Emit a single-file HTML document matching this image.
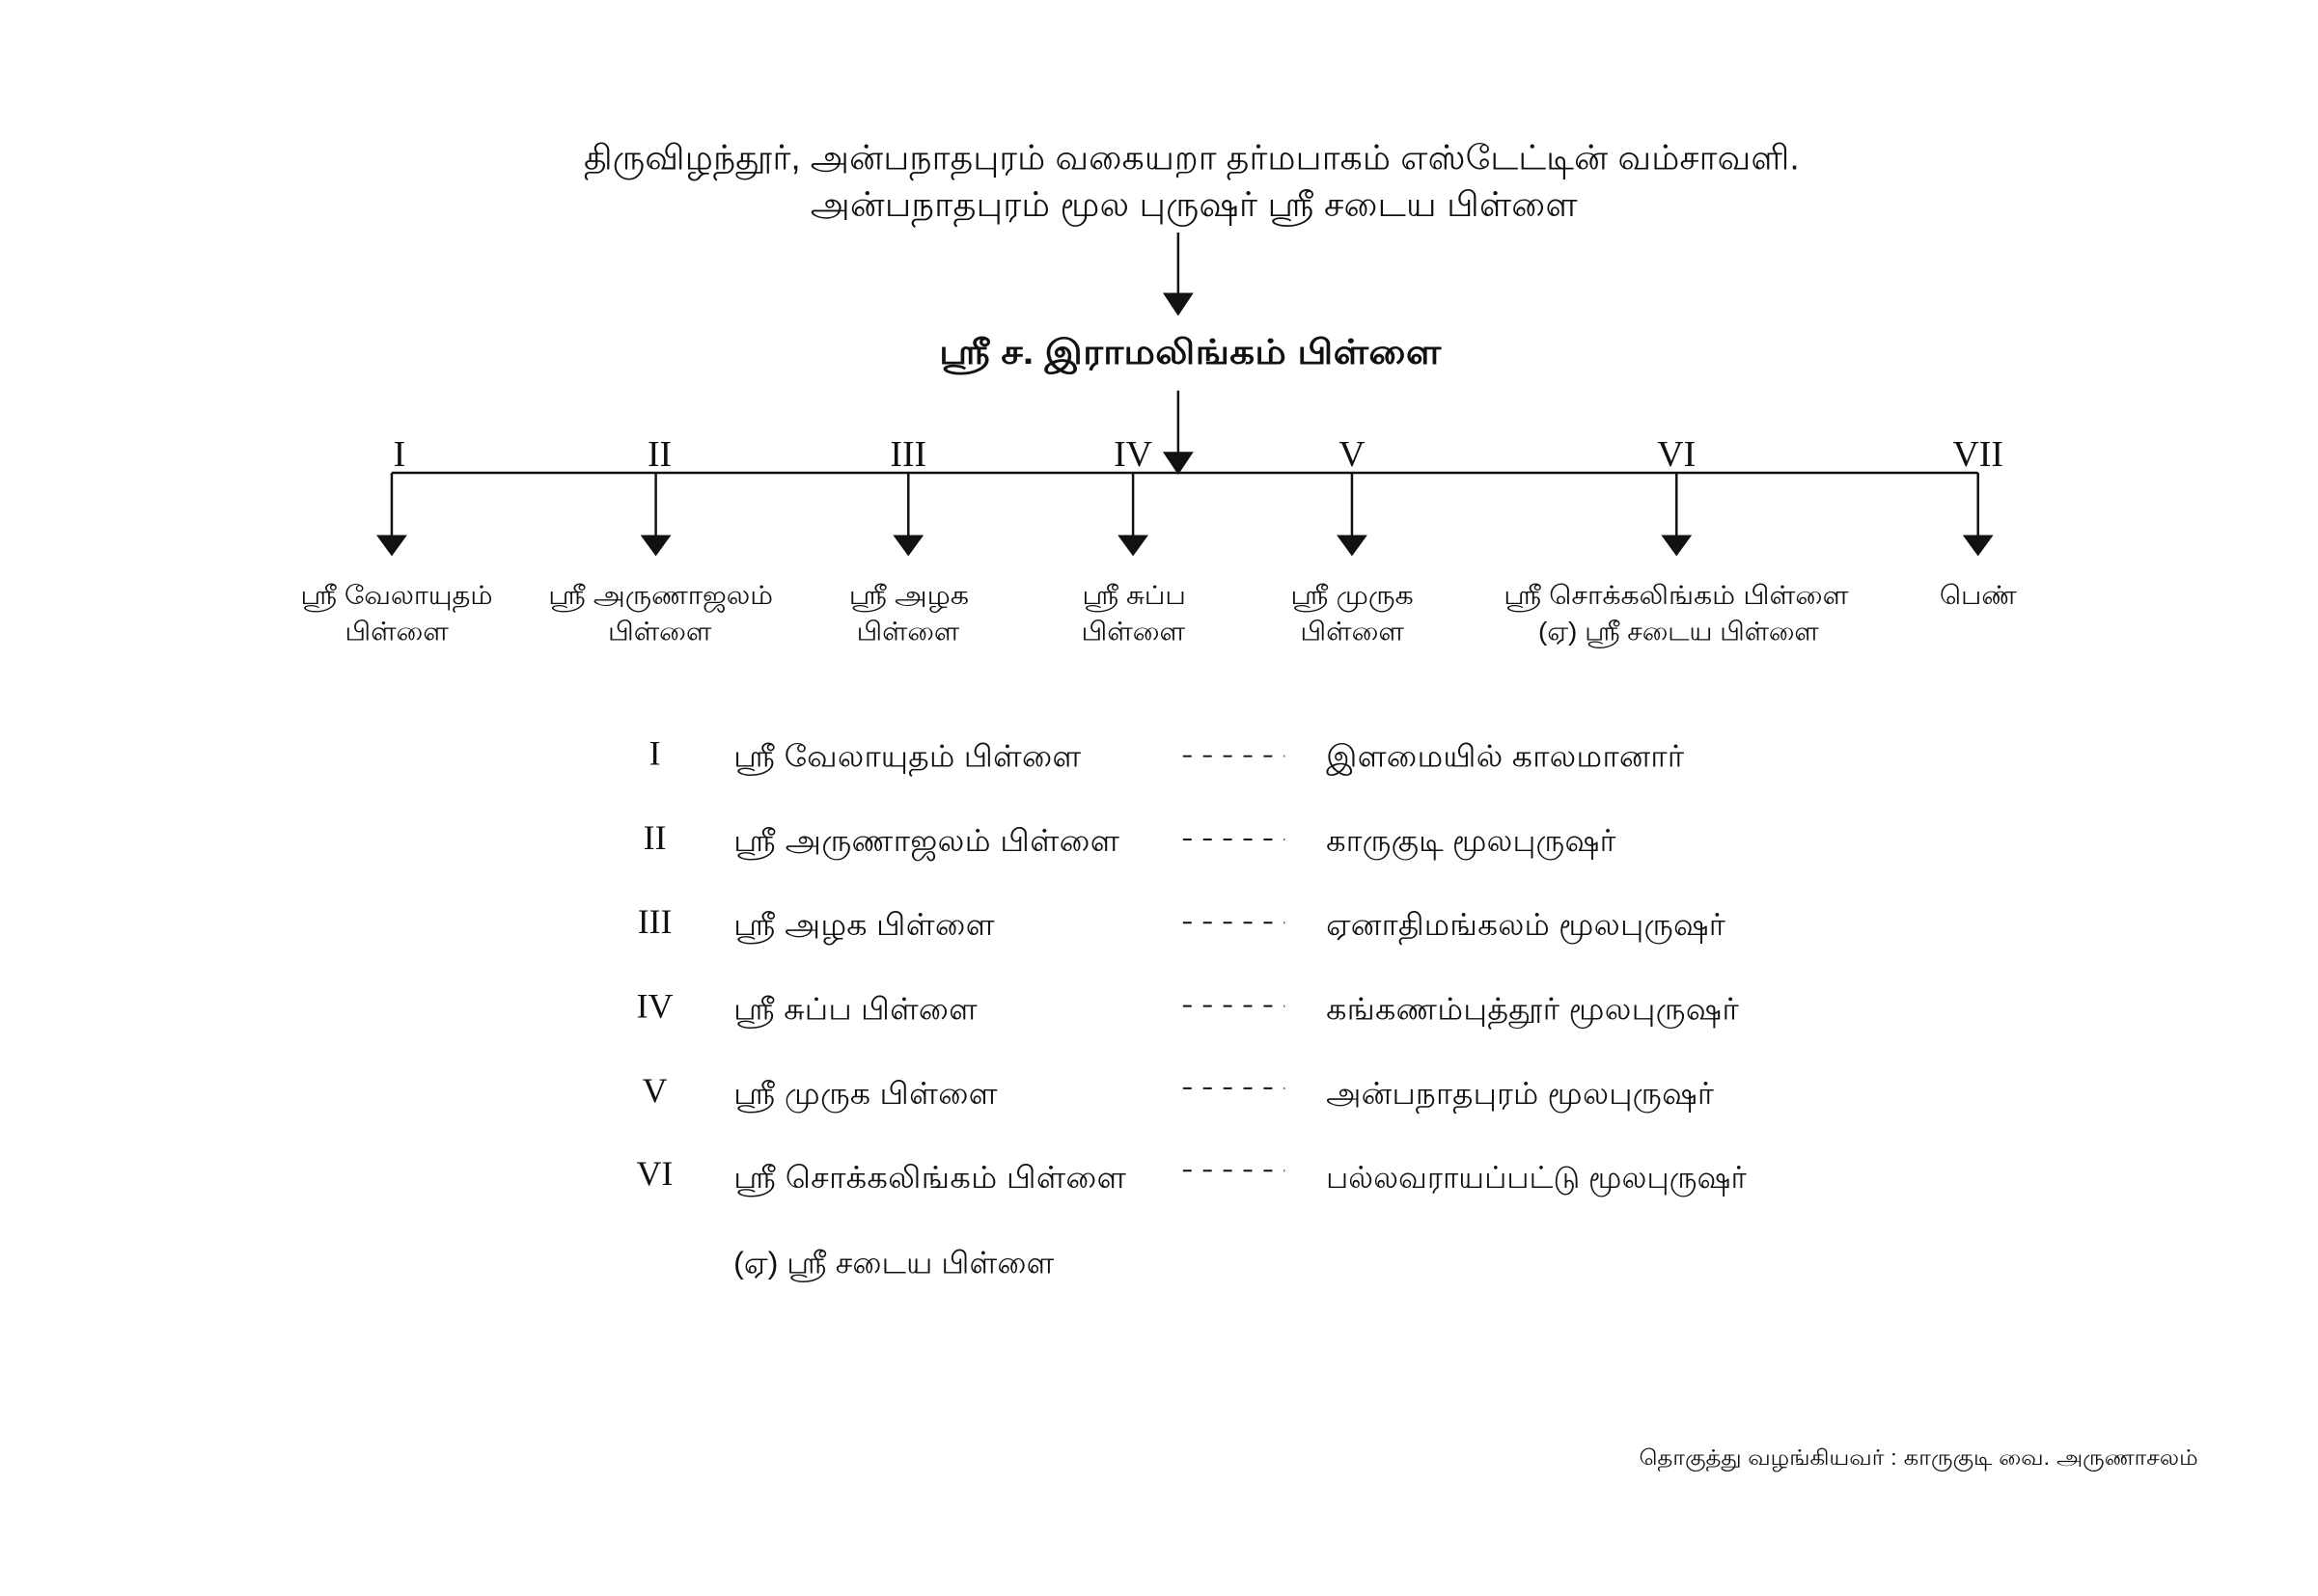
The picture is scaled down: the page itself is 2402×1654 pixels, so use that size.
<!DOCTYPE html>
<html><head><meta charset="utf-8"><style>html,body{margin:0;padding:0;background:#fff}svg{display:block}</style></head>
<body>
<svg width="2402" height="1654" viewBox="0 0 2402 1654" xmlns="http://www.w3.org/2000/svg" font-family="'Liberation Sans', 'Noto Sans CJK JP', sans-serif" fill="#111">
<g transform="scale(0.995,0.992)">
<g font-size="36">
<text x="608" y="177" textLength="1266" lengthAdjust="spacingAndGlyphs">திருவிழந்தூர், அன்பநாதபுரம் வகையறா தர்மபாகம் எஸ்டேட்டின் வம்சாவளி.</text>
<text x="844" y="226" textLength="799" lengthAdjust="spacingAndGlyphs">அன்பநாதபுரம் மூல புருஷர் ஸ்ரீ சடைய பிள்ளை</text>
<text x="978" y="380" textLength="523" lengthAdjust="spacingAndGlyphs" font-weight="bold">ஸ்ரீ ச. இராமலிங்கம் பிள்ளை</text>
</g>
<g stroke="#111" stroke-width="2.5">
<line x1="1227" y1="243" x2="1227" y2="310"/>
<line x1="1227" y1="408" x2="1227" y2="478"/>
<line x1="408" y1="494" x2="2060" y2="494"/>
<line x1="408" y1="494" x2="408" y2="560"/>
<line x1="683" y1="494" x2="683" y2="560"/>
<line x1="946" y1="494" x2="946" y2="560"/>
<line x1="1180" y1="494" x2="1180" y2="560"/>
<line x1="1408" y1="494" x2="1408" y2="560"/>
<line x1="1746" y1="494" x2="1746" y2="560"/>
<line x1="2060" y1="494" x2="2060" y2="560"/>
</g>
<g fill="#111">
<polygon points="1211,306 1243,306 1227,330"/>
<polygon points="1211,472 1243,472 1227,496"/>
<polygon points="392,559 424,559 408,581"/>
<polygon points="667,559 699,559 683,581"/>
<polygon points="930,559 962,559 946,581"/>
<polygon points="1164,559 1196,559 1180,581"/>
<polygon points="1392,559 1424,559 1408,581"/>
<polygon points="1730,559 1762,559 1746,581"/>
<polygon points="2044,559 2076,559 2060,581"/>
</g>
<g font-family="'Liberation Serif', serif" font-size="38" text-anchor="middle">
<text x="416" y="487">I</text>
<text x="687" y="487">II</text>
<text x="946" y="487">III</text>
<text x="1180" y="487">IV</text>
<text x="1408" y="487">V</text>
<text x="1746" y="487">VI</text>
<text x="2060" y="487">VII</text>
</g>
<g font-size="27">
<text x="313" y="631" textLength="200" lengthAdjust="spacingAndGlyphs">ஸ்ரீ வேலாயுதம்</text>
<text x="359" y="669" textLength="108" lengthAdjust="spacingAndGlyphs">பிள்ளை</text>
<text x="571" y="631" textLength="234" lengthAdjust="spacingAndGlyphs">ஸ்ரீ அருணாஜலம்</text>
<text x="633" y="669" textLength="108" lengthAdjust="spacingAndGlyphs">பிள்ளை</text>
<text x="884" y="631" textLength="125" lengthAdjust="spacingAndGlyphs">ஸ்ரீ அழக</text>
<text x="892" y="669" textLength="107" lengthAdjust="spacingAndGlyphs">பிள்ளை</text>
<text x="1127" y="631" textLength="108" lengthAdjust="spacingAndGlyphs">ஸ்ரீ சுப்ப</text>
<text x="1126" y="669" textLength="108" lengthAdjust="spacingAndGlyphs">பிள்ளை</text>
<text x="1344" y="631" textLength="128" lengthAdjust="spacingAndGlyphs">ஸ்ரீ முருக</text>
<text x="1354" y="669" textLength="108" lengthAdjust="spacingAndGlyphs">பிள்ளை</text>
<text x="1566" y="631" textLength="359" lengthAdjust="spacingAndGlyphs">ஸ்ரீ சொக்கலிங்கம் பிள்ளை</text>
<text x="1602" y="669" textLength="292" lengthAdjust="spacingAndGlyphs">(ஏ) ஸ்ரீ சடைய பிள்ளை</text>
<text x="2020" y="631" textLength="80" lengthAdjust="spacingAndGlyphs">பெண்</text>
</g>
<g font-family="'Liberation Serif', serif" font-size="36" text-anchor="middle">
<text x="682" y="799">I</text>
<text x="682" y="887">II</text>
<text x="682" y="975">III</text>
<text x="682" y="1063">IV</text>
<text x="682" y="1151">V</text>
<text x="682" y="1238">VI</text>
</g>
<g font-size="32">
<text x="764" y="801" textLength="362" lengthAdjust="spacingAndGlyphs">ஸ்ரீ வேலாயுதம் பிள்ளை</text>
<text x="764" y="889" textLength="402" lengthAdjust="spacingAndGlyphs">ஸ்ரீ அருணாஜலம் பிள்ளை</text>
<text x="764" y="977" textLength="272" lengthAdjust="spacingAndGlyphs">ஸ்ரீ அழக பிள்ளை</text>
<text x="764" y="1065" textLength="254" lengthAdjust="spacingAndGlyphs">ஸ்ரீ சுப்ப பிள்ளை</text>
<text x="764" y="1153" textLength="275" lengthAdjust="spacingAndGlyphs">ஸ்ரீ முருக பிள்ளை</text>
<text x="764" y="1241" textLength="409" lengthAdjust="spacingAndGlyphs">ஸ்ரீ சொக்கலிங்கம் பிள்ளை</text>
<text x="764" y="1330" textLength="334" lengthAdjust="spacingAndGlyphs">(ஏ) ஸ்ரீ சடைய பிள்ளை</text>
<text x="1381" y="801" textLength="373" lengthAdjust="spacingAndGlyphs">இளமையில் காலமானார்</text>
<text x="1381" y="889" textLength="302" lengthAdjust="spacingAndGlyphs">காருகுடி மூலபுருஷர்</text>
<text x="1381" y="977" textLength="416" lengthAdjust="spacingAndGlyphs">ஏனாதிமங்கலம் மூலபுருஷர்</text>
<text x="1381" y="1065" textLength="430" lengthAdjust="spacingAndGlyphs">கங்கணம்புத்தூர் மூலபுருஷர்</text>
<text x="1381" y="1153" textLength="404" lengthAdjust="spacingAndGlyphs">அன்பநாதபுரம் மூலபுருஷர்</text>
<text x="1381" y="1241" textLength="438" lengthAdjust="spacingAndGlyphs">பல்லவராயப்பட்டு மூலபுருஷர்</text>
</g>
<g stroke="#111" stroke-width="2" stroke-dasharray="9,12">
<line x1="1232" y1="790" x2="1338" y2="790"/>
<line x1="1232" y1="877" x2="1338" y2="877"/>
<line x1="1232" y1="964" x2="1338" y2="964"/>
<line x1="1232" y1="1051" x2="1338" y2="1051"/>
<line x1="1232" y1="1137" x2="1338" y2="1137"/>
<line x1="1232" y1="1223" x2="1338" y2="1223"/>
</g>
<text x="1707" y="1530" font-size="22" textLength="582" lengthAdjust="spacingAndGlyphs">தொகுத்து வழங்கியவர் : காருகுடி வை. அருணாசலம்</text>
</g>
</svg>
</body></html>
